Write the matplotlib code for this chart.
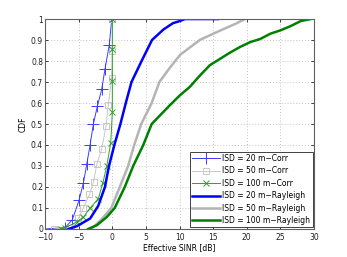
import numpy as np
import matplotlib
matplotlib.use('Agg')
import matplotlib.pyplot as plt

plt.rcParams['font.family'] = 'DejaVu Sans'

# Rayleigh curves
ray20_x = [-6.5, -5.3, -3.3, -2.1, -1.1, -0.5, 0.3, 1.2, 2.0, 2.85, 4.35, 5.9, 7.6, 9.0, 10.0, 10.8, 15.7]
ray20_y = [0, 0.013, 0.05, 0.11, 0.2, 0.3, 0.4, 0.5, 0.6, 0.7, 0.8, 0.9, 0.95, 0.98, 0.99, 1.0, 1.0]

ray50_x = [-3.3, -2.8, -1.8, -0.15, 1.1, 2.35, 3.25, 4.3, 5.85, 7.0, 8.6, 10.1, 13.0, 15.0, 18.5, 19.7]
ray50_y = [0, 0.01, 0.04, 0.1, 0.2, 0.3, 0.4, 0.5, 0.6, 0.7, 0.77, 0.83, 0.9, 0.93, 0.98, 1.0]

ray100_x = [-3.6, -2.3, -0.83, 0.35, 1.85, 3.1, 4.6, 5.85, 8.57, 10.06, 11.5, 13.0, 14.5, 16, 17.5,
            19, 20.5, 22, 23.5, 25, 26.5, 28, 29.5]
ray100_y = [0, 0.018, 0.057, 0.1, 0.2, 0.3, 0.4, 0.5, 0.59, 0.637, 0.676, 0.73, 0.78, 0.81, 0.84,
            0.867, 0.89, 0.905, 0.93, 0.946, 0.966, 0.99, 1.0]

# Correlated curves
corr20_x = [-10, -7.0, -5.94, -4.95, -4.3, -3.8, -3.31, -2.82, -2.22, -1.58, -1.08, -0.45, -0.09]
corr20_y = [0, 0.007, 0.045, 0.137, 0.22, 0.31, 0.40, 0.50, 0.586, 0.665, 0.764, 0.878, 1.0]

corr50_x = [-8.7, -6.2, -5.05, -4.3, -3.4, -2.8, -2.3, -1.58, -0.94, -0.6, -0.09, 0, 0]
corr50_y = [0, 0.005, 0.05, 0.10, 0.165, 0.224, 0.31, 0.38, 0.49, 0.59, 0.72, 0.85, 1.0]

corr100_x = [-7.6, -7.0, -5.3, -4.3, -3.3, -2.08, -1.4, -0.83, -0.24, 0, 0, 0, 0]
corr100_y = [0, 0.007, 0.033, 0.057, 0.10, 0.145, 0.22, 0.30, 0.41, 0.557, 0.703, 0.859, 1.0]

blue = '#0000ff'
gray = '#b4b4b4'
green = '#008000'

fig = plt.figure(figsize=(3.47, 2.57), dpi=100)
ax = fig.add_axes([0.130, 0.109, 0.775, 0.817])

ax.plot(corr20_x, corr20_y, color='#3c3cff', lw=0.7, marker='+', ms=8, mew=0.7,
        label='ISD = 20 m\u2212Corr')
ax.plot(corr50_x, corr50_y, color='#c8c8c8', lw=0.7, marker='s', ms=5, mew=0.7,
        mfc='none', label='ISD = 50 m\u2212Corr')
ax.plot(corr100_x, corr100_y, color='#30a030', lw=0.7, marker='x', ms=5, mew=0.7,
        label='ISD = 100 m\u2212Corr')
ax.plot(ray20_x, ray20_y, color=blue, lw=1.8, label='ISD = 20 m\u2212Rayleigh')
ax.plot(ray50_x, ray50_y, color=gray, lw=1.8, label='ISD = 50 m\u2212Rayleigh')
ax.plot(ray100_x, ray100_y, color=green, lw=1.8, label='ISD = 100 m\u2212Rayleigh')

ax.set_xlim(-10, 30)
ax.set_ylim(0, 1)
ax.set_xticks(np.arange(-10, 31, 5))
ax.set_yticks(np.arange(0, 1.01, 0.1))
ax.set_yticklabels(['0', '0.1', '0.2', '0.3', '0.4', '0.5', '0.6', '0.7', '0.8', '0.9', '1'])
ax.grid(True, linestyle=(0, (1, 2.5)), color='#b0b0b0', lw=0.6)
ax.tick_params(direction='in', length=2, width=0.6, labelsize=5.5, top=True, right=True,
               pad=1.5, colors='#202020')
ax.tick_params(axis='x', pad=3)
for s in ax.spines.values():
    s.set_color('#606060')
    s.set_linewidth(0.8)

ax.set_xlabel('Effective SINR [dB]', fontsize=5.5, labelpad=0.5)
ax.set_ylabel('CDF', fontsize=5.5, labelpad=2)

leg = ax.legend(loc='lower right', fontsize=5.5, handlelength=3.6, borderpad=0.3,
                labelspacing=0.45, handletextpad=0.3, fancybox=False, framealpha=1,
                borderaxespad=0.2)
leg.get_frame().set_edgecolor('#404040')
leg.get_frame().set_linewidth(0.7)

fig.savefig('out.png', dpi=100)
